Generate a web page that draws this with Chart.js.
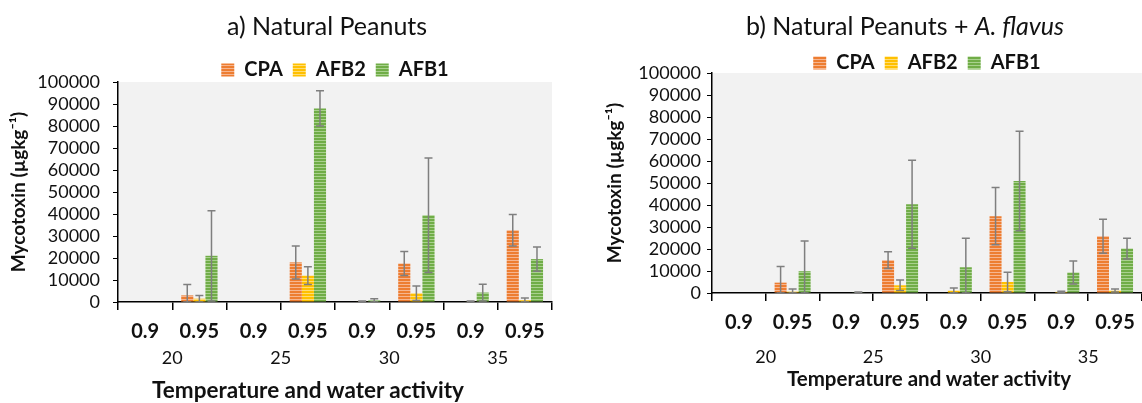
<!DOCTYPE html>
<html>
<head>
<meta charset="utf-8">
<script src="https://cdn.jsdelivr.net/npm/chart.js@4.4.1/dist/chart.umd.min.js"></script>
<style>
html, body { margin: 0; padding: 0; background: #fff; overflow: hidden; }
#wrap { position: relative; width: 1142px; height: 403px; overflow: hidden; }
.box { position: absolute; top: 0; height: 403px; }
.txt { position: absolute; font-family: Lato, sans-serif; color: #111; white-space: nowrap; transform: translate(-50%, -50%); }
</style>
</head>
<body>
<div id="wrap">
  <div class="box" style="left:0;width:570px"><canvas id="chartA"></canvas></div>
  <div class="box" style="left:570px;width:575px"><canvas id="chartB"></canvas></div>
  <div class="txt" style="left:327px;top:25px;font-size:25px">a) Natural Peanuts</div>
  <div class="txt" style="left:905px;top:25px;font-size:25px">b) Natural Peanuts + <i>A. flavus</i></div>
  <div class="txt" style="left:308px;top:389px;font-size:22.5px;font-weight:bold">Temperature and water activity</div>
  <div class="txt" style="left:929px;top:378px;font-size:20.5px;font-weight:bold">Temperature and water activity</div>
</div>
<script>
// water activity per column, temperature per pair of columns
const categories = ['0.9', '0.95', '0.9', '0.95', '0.9', '0.95', '0.9', '0.95'];
const temps = ['20', '25', '30', '35'];
const yTicks = [0, 10000, 20000, 30000, 40000, 50000, 60000, 70000, 80000, 90000, 100000];

// a) Natural peanuts (µg/kg) and error bars
const cpaA = [0, 3000, 0, 18000, 0, 17500, 0, 32600];
const cpaAErr = [0, 5000, 0, 7500, 0, 5500, 0, 7200];
const afb2A = [0, 1500, 0, 12000, 200, 4000, 200, 800];
const afb2AErr = [0, 1500, 0, 4000, 300, 3300, 300, 1000];
const afb1A = [0, 21000, 0, 88000, 700, 39400, 4300, 19500];
const afb1AErr = [0, 20500, 0, 8000, 800, 26000, 3800, 5500];

// b) Natural peanuts + A. flavus
const cpaB = [0, 4700, 0, 14900, 0, 34900, 0, 25800];
const cpaBErr = [0, 7300, 0, 3800, 0, 13000, 0, 7700];
const afb2B = [0, 600, 0, 3500, 1100, 5000, 500, 1100];
const afb2BErr = [0, 1200, 0, 2400, 1200, 4400, 300, 700];
const afb1B = [0, 9900, 300, 40300, 11700, 50900, 9300, 20200];
const afb1BErr = [0, 13700, 200, 20000, 13200, 22600, 5200, 4700];

Chart.defaults.font.family = 'Lato, sans-serif';
Chart.defaults.color = '#111';

// striped fill like the Excel pattern
function stripes(base, light) {
    const c = document.createElement('canvas');
    c.width = 4; c.height = 3;
    const g = c.getContext('2d');
    g.fillStyle = base; g.fillRect(0, 0, 4, 3);
    g.fillStyle = light; g.fillRect(0, 2, 4, 1);
    return g.createPattern(c, 'repeat');
}
const orange = stripes('#ED7D31', '#F6B58F');
const yellow = stripes('#FFC000', '#FFDD75');
const green = stripes('#70AD47', '#A9D18E');

const plotBg = {
    id: 'plotBg',
    beforeDraw(chart) {
        const { ctx, chartArea: a } = chart;
        ctx.save();
        ctx.fillStyle = '#f2f2f2';
        ctx.fillRect(a.left, a.top, a.right - a.left, a.bottom - a.top);
        ctx.restore();
    }
};

const errorBars = {
    id: 'errorBars',
    afterDatasetsDraw(chart) {
        const { ctx, chartArea: a } = chart;
        const y = chart.scales.y;
        ctx.save();
        ctx.beginPath();
        ctx.rect(a.left, a.top - 20, chart.width, a.bottom - a.top + 20);
        ctx.clip();
        ctx.strokeStyle = '#7f7f7f';
        ctx.lineWidth = 1.5;
        chart.data.datasets.forEach((ds, i) => {
            chart.getDatasetMeta(i).data.forEach((bar, j) => {
                const err = ds.errors[j];
                if (!err) return;
                const top = y.getPixelForValue(ds.data[j] + err);
                const bot = y.getPixelForValue(Math.max(0, ds.data[j] - err));
                ctx.beginPath();
                ctx.moveTo(bar.x, top); ctx.lineTo(bar.x, bot);
                ctx.moveTo(bar.x - 4, top); ctx.lineTo(bar.x + 4, top);
                ctx.moveTo(bar.x - 4, bot); ctx.lineTo(bar.x + 4, bot);
                ctx.stroke();
            });
        });
        ctx.restore();
    }
};

function makeChart(id, series, lay) {
    const legendHeight = {
        id: 'legendHeight',
        beforeInit(chart) {
            const fit = chart.legend.fit;
            chart.legend.fit = function () { fit.call(this); this.height = lay.legendH; };
        }
    };
    return new Chart(document.getElementById(id), {
        type: 'bar',
        data: {
            labels: categories,
            datasets: [
                { label: 'CPA', data: series[0], errors: series[1], backgroundColor: orange },
                { label: 'AFB2', data: series[2], errors: series[3], backgroundColor: yellow },
                { label: 'AFB1', data: series[4], errors: series[5], backgroundColor: green }
            ]
        },
        options: {
            responsive: true,
            maintainAspectRatio: false,
            animation: false,
            categoryPercentage: 0.67,
            barPercentage: 1.0,
            borderWidth: 0,
            layout: { padding: { top: lay.top, right: lay.right, bottom: lay.bottom, left: 0 } },
            plugins: {
                title: { display: false },
                tooltip: { enabled: false },
                legend: {
                    position: 'top',
                    fullSize: false,
                    labels: { boxWidth: 13, boxHeight: 13, padding: 10, font: { size: 20, weight: 'bold' } }
                }
            },
            scales: {
                x: {
                    type: 'category',
                    weight: 0,
                    offset: true,
                    grid: { drawOnChartArea: false, drawTicks: true, tickLength: 8, color: '#000', lineWidth: 1.5, offset: true },
                    border: { color: '#000', width: 1.5 },
                    ticks: { font: { size: 20, weight: 'bold' }, padding: lay.xPad, maxRotation: 0, autoSkip: false },
                    afterFit: (s) => { s.height = 40; }
                },
                x2: {
                    type: 'linear',
                    position: 'bottom',
                    weight: 1,
                    offset: false,
                    min: -0.5,
                    max: 7.5,
                    grid: { display: false, drawTicks: false, offset: false },
                    border: { display: false },
                    ticks: { font: { size: 18 }, padding: lay.x2Pad, autoSkip: false, maxRotation: 0,
                             callback: (v) => temps[Math.round((v - 0.5) / 2)] },
                    afterBuildTicks: (s) => { s.ticks = [0.5, 2.5, 4.5, 6.5].map(v => ({ value: v })); },
                    afterFit: (s) => { s.height = 30; }
                },
                y: {
                    min: 0,
                    max: 100000,
                    grid: { drawOnChartArea: false, drawTicks: true, tickLength: 5, color: '#000' },
                    border: { color: '#000', width: 1.5 },
                    ticks: { font: { size: 18 }, padding: lay.yPad, autoSkip: false, callback: (v) => String(v) },
                    afterBuildTicks: (s) => { s.ticks = yTicks.map(v => ({ value: v })); },
                    title: {
                        display: true,
                        text: 'Mycotoxin (µgkg⁻¹)',
                        font: { size: 19, weight: 'bold' },
                        padding: { top: lay.yTitlePad, bottom: 0 }
                    },
                    afterFit: (s) => { s.width = lay.yW; }
                }
            }
        },
        plugins: [plotBg, errorBars, legendHeight]
    });
}

makeChart('chartA', [cpaA, cpaAErr, afb2A, afb2AErr, afb1A, afb1AErr],
    { top: 50, legendH: 32, right: 18, bottom: 31, yW: 118, yPad: 13, yTitlePad: 7, xPad: 10, x2Pad: 5 });
makeChart('chartB', [cpaB, cpaBErr, afb2B, afb2BErr, afb1B, afb1BErr],
    { top: 43, legendH: 30, right: 0, bottom: 40, yW: 142, yPad: 6, yTitlePad: 33, xPad: 10, x2Pad: 13 });
</script>
</body>
</html>
